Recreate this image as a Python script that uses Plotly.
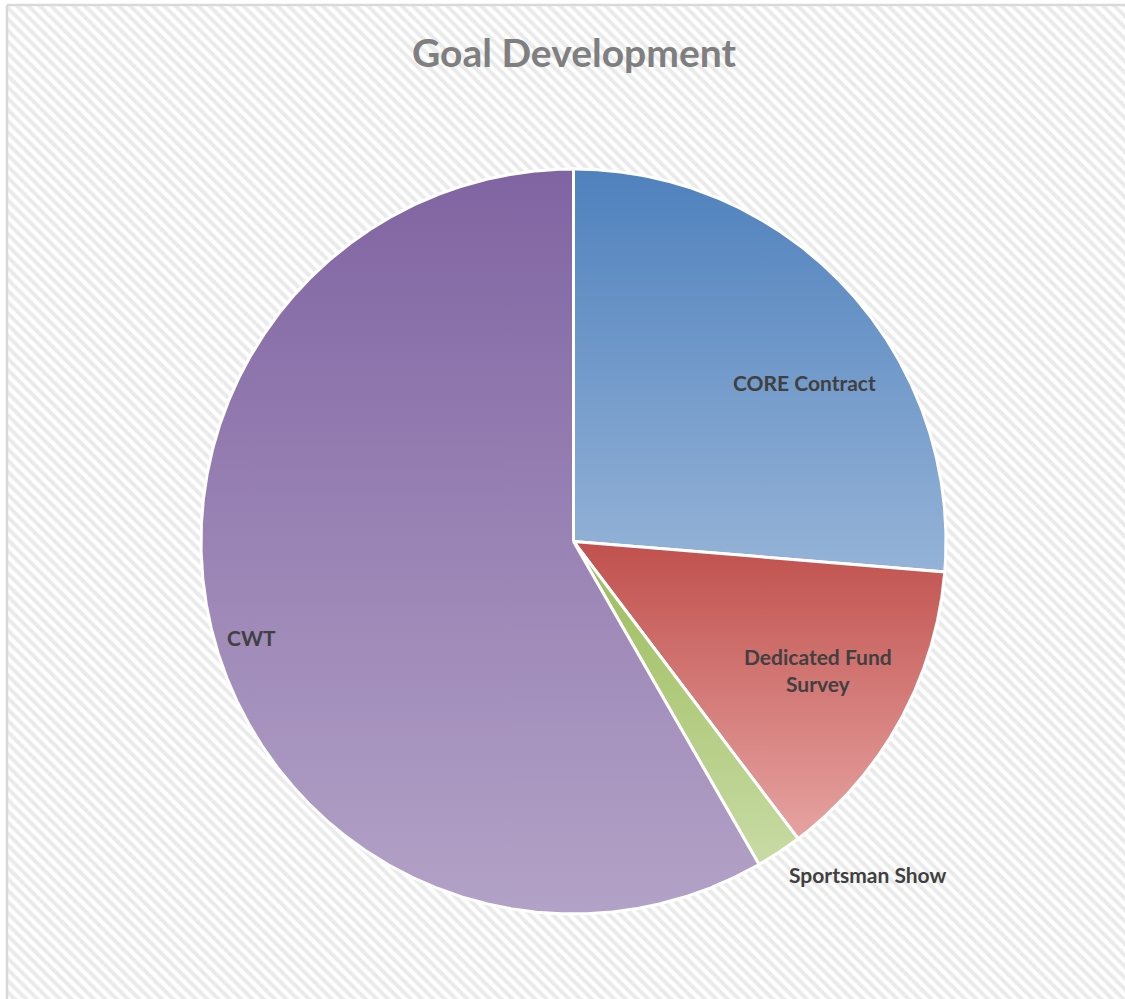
import numpy as np
import plotly.graph_objects as go

# Goal development breakdown (share of total, %)
categories = ["CORE Contract", "Dedicated Fund Survey", "Sportsman Show", "CWT"]
shares = [26.3, 13.4, 2.0, 58.3]
label_texts = ["CORE Contract", "Dedicated Fund<br>Survey", "Sportsman Show", "CWT"]

# Styling: linear top-to-bottom gradient per slice (dark accent -> light tint)
SLICE_COLORS = {
    "CORE Contract": ("#4F81BD", "#95B3D7"),
    "Dedicated Fund Survey": ("#C0504D", "#E6A3A1"),
    "Sportsman Show": ("#9BBB59", "#C8DBA5"),
    "CWT": ("#8064A2", "#B3A2C7"),
}
LABEL_POS = {
    "CORE Contract": (804, 382),
    "Dedicated Fund Survey": (818, 670),
    "Sportsman Show": (867, 874),
    "CWT": (251, 637),
}

W, H = 1125, 999
CX, CY, R = 573.5, 541.5, 372.5
TEXT_FONT = "Lato"

fig = go.Figure()

# hatched chart-area background
fig.add_trace(go.Scatter(
    x=[7, W, W, 7, 7], y=[5, 5, H, H, 5],
    mode="lines", line=dict(width=0, color="rgba(0,0,0,0)"),
    fill="toself", fillcolor="white",
    fillpattern=dict(shape="\\", fgcolor="#D6D6D6", bgcolor="white",
                     size=8, solidity=0.5),
    hoverinfo="skip", showlegend=False,
))

# pie slices, clockwise from 12 o'clock
total = float(sum(shares))
start = 0.0
for cat, val in zip(categories, shares):
    sweep = 360.0 * val / total
    th = np.radians(np.linspace(start, start + sweep, max(int(sweep * 4), 8)))
    xs = np.concatenate([[CX], CX + R * np.sin(th), [CX]])
    ys = np.concatenate([[CY], CY - R * np.cos(th), [CY]])
    dark, light = SLICE_COLORS[cat]
    fig.add_trace(go.Scatter(
        x=xs, y=ys, mode="lines",
        line=dict(color="white", width=3),
        fill="toself",
        fillgradient=dict(type="vertical",
                          colorscale=[[0, dark], [1, light]],
                          start=float(ys.min()), stop=float(ys.max())),
        name=cat, hoverinfo="name", showlegend=False,
    ))
    start += sweep

for cat, txt in zip(categories, label_texts):
    lx, ly = LABEL_POS[cat]
    fig.add_annotation(
        x=lx, y=ly, xref="x", yref="y", text=f"<b>{txt}</b>",
        showarrow=False, xanchor="center", yanchor="middle",
        font=dict(family=TEXT_FONT, size=21, color="#404040"),
    )

# title
fig.add_annotation(
    x=CX, y=52, xref="x", yref="y", text="<b>Goal Development</b>",
    showarrow=False, xanchor="center", yanchor="middle",
    font=dict(family=TEXT_FONT, size=39, color="#7F7F7F"),
)

# chart-area border: left and top edges
for x0, y0, x1, y1 in [(7, 5, 7, H), (7, 5, W, 5)]:
    fig.add_shape(type="line", x0=x0, y0=y0, x1=x1, y1=y1, xref="x", yref="y",
                  line=dict(color="#D9D9D9", width=2.5), layer="above")

fig.update_layout(
    width=W, height=H,
    margin=dict(l=0, r=0, t=0, b=0),
    paper_bgcolor="white", plot_bgcolor="white",
    xaxis=dict(range=[0, W], visible=False, fixedrange=True),
    yaxis=dict(range=[H, 0], visible=False, fixedrange=True),
    showlegend=False,
)

fig.write_html("out.html")
